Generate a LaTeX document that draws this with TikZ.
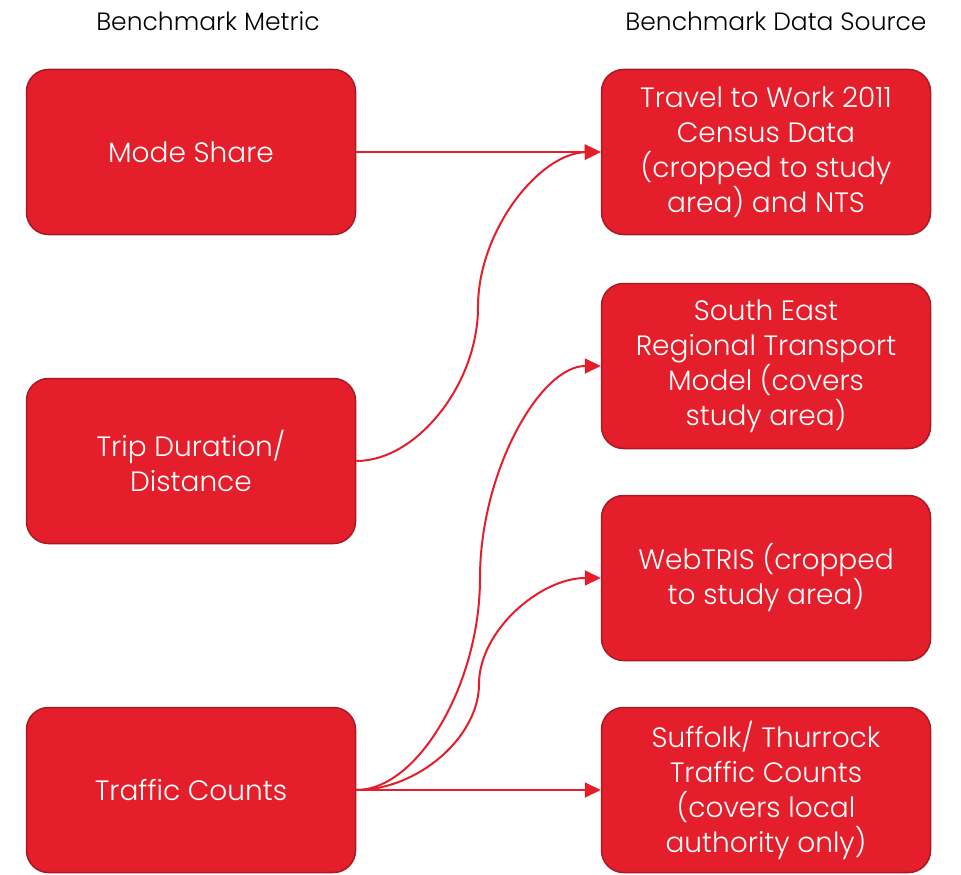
\documentclass[tikz,border=0pt]{standalone}
\usepackage{fontspec}
\setmainfont{Poppins}[UprightFont=* Light]
\usetikzlibrary{arrows.meta}
\definecolor{boxred}{HTML}{E41E2A}
\definecolor{boxedge}{HTML}{A91B22}
\begin{document}
\begin{tikzpicture}[x=1pt,y=-1pt,
  box/.style={draw=boxedge,line width=1.5pt,fill=boxred,rounded corners=22pt,
    minimum width=329pt,minimum height=165pt,text=white,align=center,
    font=\fontsize{28}{35}\selectfont,inner sep=0pt},
  hdr/.style={font=\fontsize{25}{30}\selectfont,inner sep=0pt},
  conn/.style={draw=boxred,line width=2pt,-{Triangle[length=16pt,width=15pt]}}]
\useasboundingbox (0,0) rectangle (961,875);
\node[hdr] (h1) at (208,21) {Benchmark Metric};
\node[hdr] (h2) at (776,21) {Benchmark Data Source};
\node[box] (m1) at (191,152) {Mode Share};
\node[box] (m2) at (191,461) {Trip Duration/\\Distance};
\node[box] (m3) at (191,790) {Traffic Counts};
\node[box] (s1) at (766,152) {Travel to Work 2011\\Census Data\\(cropped to study\\area) and NTS};
\node[box] (s2) at (766,366) {South East\\Regional Transport\\Model (covers\\study area)};
\node[box] (s3) at (766,578) {WebTRIS (cropped\\to study area)};
\node[box] (s4) at (766,790) {Suffolk/ Thurrock\\Traffic Counts\\(covers local\\authority only)};
\coordinate (c1) at (478,307);
\coordinate (c2) at (480,578);
\coordinate (c3) at (479,684);
\draw[conn] (m1.east) -- (s1.west);
\draw[conn] (m2.east) .. controls (417,461) and (478,384) .. (c1)
  .. controls (478,230) and (540,153) .. (s1.west);
\draw[conn] (m3.east) .. controls (418,790) and (480,684) .. (c2)
  .. controls (480,472) and (540,366) .. (s2.west);
\draw[conn] (m3.east) .. controls (418,790) and (479,737) .. (c3)
  .. controls (479,631) and (540,578) .. (s3.west);
\draw[conn] (m3.east) -- (s4.west);
\end{tikzpicture}
\end{document}
